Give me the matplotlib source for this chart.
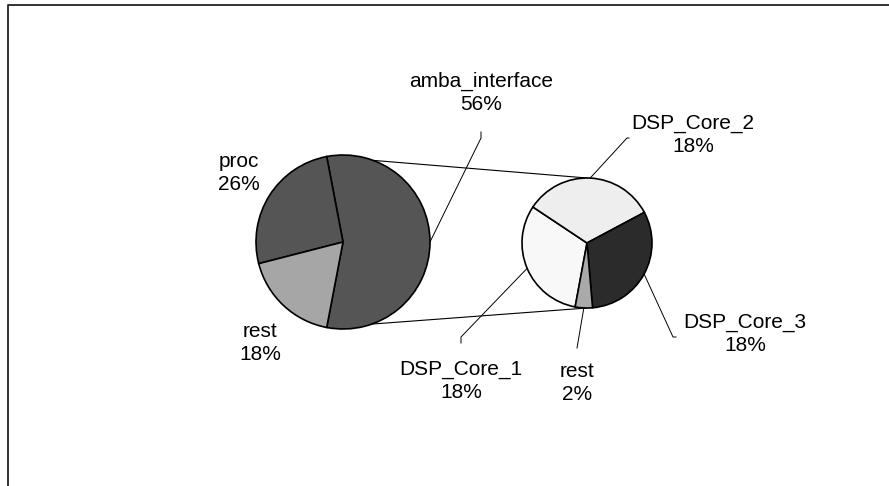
import numpy as np
import matplotlib
matplotlib.use('Agg')
import matplotlib.pyplot as plt

# main pie
main_labels = ['amba_interface', 'proc', 'rest']
main_values = [56, 26, 18]
main_colors = ['#555555', '#555555', '#a6a6a6']

# secondary pie (split of amba_interface), values in % of total
sub_labels = ['DSP_Core_1', 'DSP_Core_2', 'DSP_Core_3', 'rest']
sub_values = [17.6, 18.4, 17.6, 2.4]
sub_colors = ['#f8f8f8', '#eeeeee', '#2b2b2b', '#aaaaaa']

plt.rcParams['font.family'] = ['Liberation Sans', 'DejaVu Sans']

W, H = 889, 486
fig = plt.figure(figsize=(W / 100, H / 100), dpi=100)
ax = fig.add_axes([0, 0, 1, 1])

c_main, r_main = (343, 244), 87
c_sub, r_sub = (587, 243), 65

start_main = -main_values[0] / sum(main_values) * 360 / 2
wp = dict(edgecolor='black', linewidth=1.2)
ax.pie(main_values, colors=main_colors, center=c_main, radius=r_main,
       startangle=start_main, counterclock=True, wedgeprops=wp, frame=True)
start_sub = -100.5
ax.pie(sub_values, colors=sub_colors, center=c_sub, radius=r_sub,
       startangle=start_sub, counterclock=False, wedgeprops=wp, frame=True)
ax.set_xlim(0, W)
ax.set_ylim(0, H)
ax.set_aspect('equal')
ax.axis('off')

# connector lines between split slice edges and secondary pie
for sgn in (1, -1):
    a = np.deg2rad(sgn * -start_main)
    x0 = c_main[0] + r_main * np.cos(a)
    y0 = c_main[1] + r_main * np.sin(a)
    ax.plot([x0, c_sub[0]], [y0, c_sub[1] + sgn * r_sub], color='black', lw=0.8, zorder=0)

def wedge_point(values, idx, start, ccw, center, r):
    tot = sum(values)
    before = sum(values[:idx]) / tot * 360
    mid = before + values[idx] / tot * 360 / 2
    ang = start + mid if ccw else start - mid
    a = np.deg2rad(ang)
    return center[0] + r * np.cos(a), center[1] + r * np.sin(a)

fs = 15
def label(txt, pct, x, y):
    ax.text(x, y, f'{txt}\n{pct:.0f}%', ha='center', va='center', fontsize=fs,
            linespacing=1.3, color='black')

# main labels
main_pos = [(481, 393), (239, 313), (260, 143)]
for lab, v, (x, y) in zip(main_labels, main_values, main_pos):
    label(lab, v / sum(main_values) * 100, x, y)

# leader for amba_interface
px, py = wedge_point(main_values, 0, start_main, True, c_main, r_main)
ax.plot([481, 481, px], [354, 348, py], color='black', lw=0.7)

# secondary labels and leaders
sub_pos = [(461, 105), (693, 351), (745, 152), (577, 103)]
sub_anchor = [[(461, 143), (461, 149)], [(629, 348), (627, 348)],
              [(676, 149), (673, 149)], [(577, 138)]]
for i, (lab, v, (x, y)) in enumerate(zip(sub_labels, sub_values, sub_pos)):
    label(lab, v, x, y)
    px, py = wedge_point(sub_values, i, start_sub, False, c_sub, r_sub)
    xs = [p[0] for p in sub_anchor[i]] + [px]
    ys = [p[1] for p in sub_anchor[i]] + [py]
    ax.plot(xs, ys, color='black', lw=0.7)

# chart frame (only left and top edges visible)
ax.plot([8, 8, W + 5], [-5, 481, 481], color='#222222', lw=1.3, clip_on=False)

fig.savefig('out.png', dpi=100)
